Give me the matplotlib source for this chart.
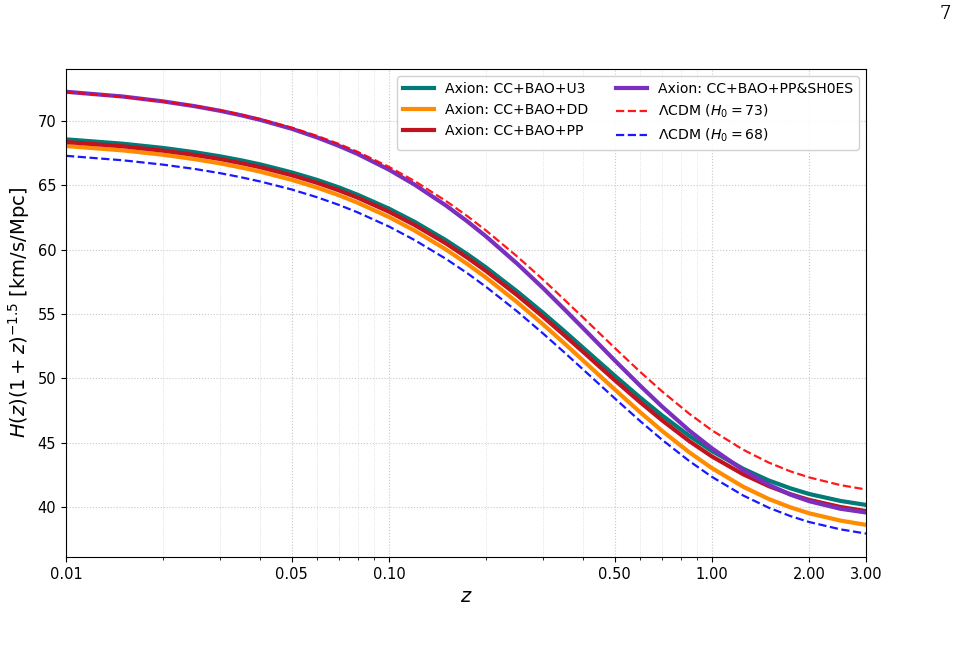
import numpy as np
import matplotlib.pyplot as plt
from matplotlib.ticker import FixedLocator, FixedFormatter, NullFormatter, LogLocator

z = [0.01, 0.015, 0.02, 0.025, 0.03, 0.035, 0.04, 0.05, 0.06, 0.07, 0.08,
     0.1, 0.12, 0.15, 0.175, 0.2, 0.25, 0.3, 0.35, 0.4, 0.5, 0.6, 0.7,
     0.85, 1.0, 1.25, 1.5, 1.75, 2.0, 2.5, 3.0]

# H(z)(1+z)^-1.5 in km/s/Mpc
axion_u3 = [68.58, 68.24, 67.91, 67.58, 67.26, 66.94, 66.63, 66.01, 65.42, 64.84, 64.27,
            63.19, 62.17, 60.74, 59.64, 58.61, 56.73, 55.09, 53.64, 52.35, 50.20, 48.49, 47.12,
            45.53, 44.34, 42.96, 42.05, 41.44, 41.00, 40.46, 40.15]
axion_dd = [68.06, 67.72, 67.38, 67.04, 66.71, 66.38, 66.06, 65.43, 64.82, 64.23, 63.65,
            62.54, 61.49, 60.02, 58.88, 57.82, 55.89, 54.19, 52.69, 51.36, 49.13, 47.35, 45.92,
            44.25, 43.01, 41.56, 40.61, 39.96, 39.50, 38.93, 38.60]
axion_pp = [68.37, 68.04, 67.70, 67.37, 67.05, 66.72, 66.41, 65.79, 65.19, 64.61, 64.04,
            62.95, 61.92, 60.49, 59.37, 58.33, 56.44, 54.78, 53.32, 52.03, 49.85, 48.13, 46.74,
            45.12, 43.92, 42.53, 41.61, 40.98, 40.54, 39.99, 39.67]
axion_pp_sh0es = [72.28, 71.91, 71.53, 71.16, 70.80, 70.44, 70.09, 69.40, 68.72, 68.07, 67.44,
                  66.22, 65.06, 63.44, 62.19, 61.02, 58.89, 57.01, 55.34, 53.87, 51.39, 49.41, 47.81,
                  45.94, 44.55, 42.86, 41.72, 40.95, 40.44, 39.85, 39.56]
lcdm_73 = [72.26, 71.89, 71.53, 71.18, 70.83, 70.49, 70.15, 69.49, 68.84, 68.22, 67.61,
           66.44, 65.34, 63.79, 62.60, 61.48, 59.45, 57.67, 56.09, 54.70, 52.36, 50.49, 48.99,
           47.25, 45.95, 44.44, 43.44, 42.76, 42.29, 41.69, 41.35]
lcdm_68 = [67.30, 66.95, 66.61, 66.28, 65.95, 65.62, 65.30, 64.68, 64.07, 63.48, 62.90,
           61.80, 60.75, 59.29, 58.16, 57.10, 55.18, 53.48, 51.99, 50.66, 48.44, 46.66, 45.23,
           43.57, 42.33, 40.88, 39.93, 39.28, 38.82, 38.25, 37.92]

xticks = [0.01, 0.05, 0.10, 0.50, 1.00, 2.00, 3.00]
xticklabels = ['0.01', '0.05', '0.10', '0.50', '1.00', '2.00', '3.00']
yticks = [40, 45, 50, 55, 60, 65, 70]

fig = plt.figure(figsize=(9.58, 6.51), dpi=100)
ax = fig.add_axes([0.0689, 0.1444, 0.8351, 0.7496])

ax.plot(z, axion_u3, color='#007b78', lw=3, label='Axion: CC+BAO+U3')
ax.plot(z, axion_dd, color='#ff8c00', lw=3, label='Axion: CC+BAO+DD')
ax.plot(z, axion_pp, color='#c0131f', lw=3, label='Axion: CC+BAO+PP')
ax.plot(z, axion_pp_sh0es, color='#7b2fbe', lw=3, label='Axion: CC+BAO+PP&SH0ES')
ax.plot(z, lcdm_73, color='red', lw=1.6, ls='--', alpha=0.9, label=r'$\Lambda$CDM ($H_0=73$)')
ax.plot(z, lcdm_68, color='blue', lw=1.6, ls='--', alpha=0.9, label=r'$\Lambda$CDM ($H_0=68$)')

ax.set_xscale('log')
ax.set_xlim(0.01, 3.0)
ax.set_ylim(36.1, 74.05)
ax.xaxis.set_major_locator(FixedLocator(xticks))
ax.xaxis.set_major_formatter(FixedFormatter(xticklabels))
ax.xaxis.set_minor_locator(LogLocator(base=10, subs=np.arange(2, 10)))
ax.xaxis.set_minor_formatter(NullFormatter())
ax.set_yticks(yticks)
ax.tick_params(labelsize=10.5)

ax.grid(True, which='major', ls=':', color='#c8c8c8', lw=0.8)
ax.grid(True, which='minor', axis='x', ls=':', color='#d8d8d8', lw=0.6)

ax.set_xlabel(r'$z$', fontsize=14)
ax.set_ylabel(r'$H(z)(1+z)^{-1.5}$ [km/s/Mpc]', fontsize=14)

ax.legend(ncol=2, loc='upper right', fontsize=10.1, handlelength=2.2,
          columnspacing=2.0, framealpha=0.9)

fig.text(0.993, 0.992, '7', fontsize=13, family='serif', ha='right', va='top')

fig.savefig('out.png', dpi=100)
